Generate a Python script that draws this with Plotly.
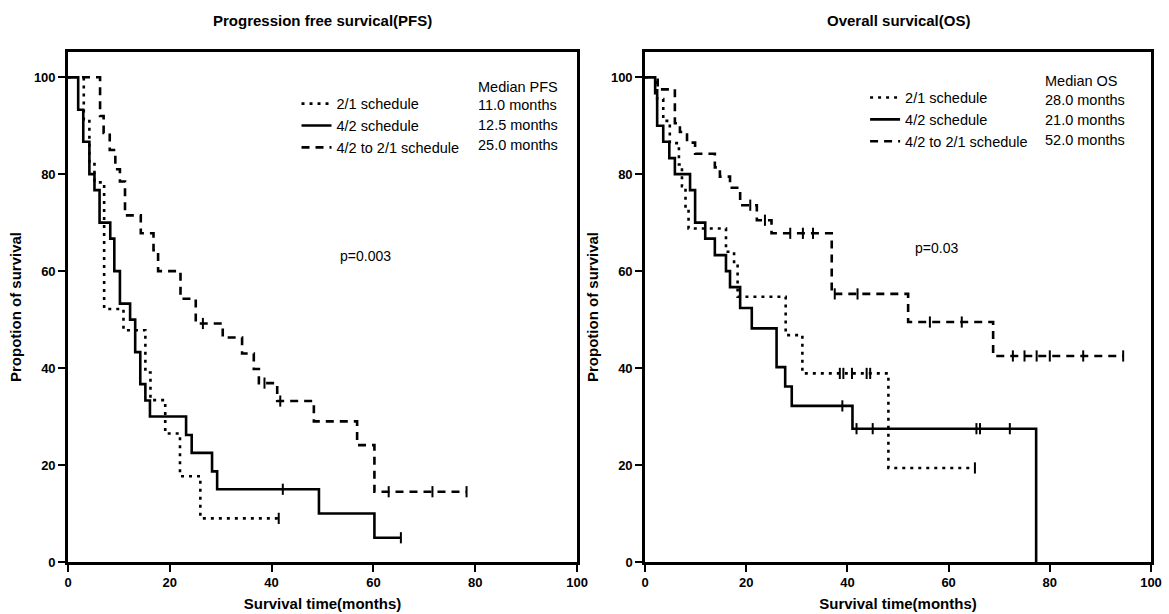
import plotly.graph_objects as go
from plotly.subplots import make_subplots

# ---------------- data ----------------
series_names = ["2/1 schedule", "4/2 schedule", "4/2 to 2/1 schedule"]

# Progression free survival
pfs_21_t = [0, 3.1, 4.2, 5.2, 7.1, 10.9, 15.2, 16.2, 19.1, 22.0, 26.0, 41.4]
pfs_21_s = [100, 91.3, 82.6, 78.3, 52.2, 47.8, 39.1, 33.4, 26.5, 17.7, 9.0, 9.0]
pfs_21_cens_t = [41.4]
pfs_21_cens_s = [9.0]

pfs_42_t = [0, 2.0, 3.0, 4.2, 5.2, 6.2, 8.3, 9.1, 10.2, 12.2, 13.2, 14.2, 15.2, 16.1,
            23.2, 24.3, 28.3, 29.3, 49.3, 60.2, 65.4]
pfs_42_s = [100, 93.3, 86.7, 80.0, 76.7, 70.0, 66.7, 60.0, 53.3, 50.0, 43.3, 36.7, 33.3, 30.0,
            26.2, 22.5, 18.7, 15.0, 10.0, 5.0, 5.0]
pfs_42_cens_t = [42.2, 65.4]
pfs_42_cens_s = [15.0, 5.0]

pfs_4221_t = [0, 6.3, 7.0, 8.2, 9.3, 10.2, 11.2, 14.3, 16.8, 17.7, 22.1, 25.1, 30.4, 34.2,
              36.5, 37.5, 41.1, 48.3, 56.8, 60.2, 78.3]
pfs_4221_s = [100, 92.0, 88.5, 85.0, 81.0, 78.5, 71.5, 67.8, 64.3, 60.0, 54.3, 49.2, 46.3, 43.0,
              39.8, 36.9, 33.2, 29.0, 24.1, 14.5, 14.5]
pfs_4221_cens_t = [26.5, 38.6, 41.7, 63.0, 71.6, 78.3]
pfs_4221_cens_s = [49.2, 36.9, 33.2, 14.5, 14.5, 14.5]

# Overall survival
os_21_t = [0, 2.4, 3.6, 4.9, 6.7, 7.3, 8.0, 8.6, 16.0, 17.6, 18.3, 27.8, 31.1, 48.1, 65.2]
os_21_s = [100, 95.5, 91.0, 86.4, 82.0, 77.5, 73.0, 68.8, 64.0, 61.5, 54.7, 46.8, 38.9, 19.4, 19.4]
os_21_cens_t = [38.5, 39.2, 40.9, 43.8, 44.5, 65.2]
os_21_cens_s = [38.9, 38.9, 38.9, 38.9, 38.9, 19.4]

os_42_t = [0, 2.0, 2.4, 3.6, 4.8, 5.9, 8.9, 9.9, 11.9, 13.8, 16.0, 16.8, 18.8, 21.1,
           26.0, 27.7, 29.0, 41.0, 77.3]
os_42_s = [100, 96.7, 90.0, 86.7, 83.3, 80.0, 76.7, 70.0, 66.7, 63.3, 60.0, 56.7, 52.4, 48.2,
           40.2, 36.2, 32.2, 27.5, 0]
os_42_cens_t = [39.0, 41.8, 45.0, 65.5, 66.2, 72.1]
os_42_cens_s = [32.2, 27.5, 27.5, 27.5, 27.5, 27.5]

os_4221_t = [0, 2.5, 5.9, 6.9, 8.3, 9.9, 13.8, 14.8, 16.8, 18.8, 22.1, 25.0, 36.9, 52.0, 68.8, 94.5]
os_4221_s = [100, 97.5, 90.5, 88.7, 86.5, 84.2, 81.4, 79.5, 77.2, 73.6, 70.5, 67.8, 55.3, 49.5, 42.5, 42.5]
os_4221_cens_t = [20.8, 23.7, 28.7, 31.2, 33.2, 37.5, 42.0, 56.3, 62.6, 72.7, 75.0, 77.4, 80.0, 86.6, 94.5]
os_4221_cens_s = [73.6, 70.5, 67.8, 67.8, 67.8, 55.3, 55.3, 49.5, 49.5, 42.5, 42.5, 42.5, 42.5, 42.5, 42.5]

pfs_medians = ["11.0 months", "12.5 months", "25.0 months"]
os_medians = ["28.0 months", "21.0 months", "52.0 months"]
pfs_p = "p=0.003"
os_p = "p=0.03"

x_ticks = [0, 20, 40, 60, 80, 100]
y_ticks = [0, 20, 40, 60, 80, 100]

# ---------------- figure ----------------
FONT = "Liberation Sans, Arial, sans-serif"
dashes = ["3px,5px", "solid", "8px,6px"]
LW = 2.6
TXT = 14.5

fig = make_subplots(rows=1, cols=2, horizontal_spacing=0.0628)
fig.update_layout(xaxis=dict(domain=[0, 0.470]), xaxis2=dict(domain=[0.5328, 1.0]))

panels = [
    (1, "legend", [(pfs_21_t, pfs_21_s, pfs_21_cens_t, pfs_21_cens_s),
                   (pfs_42_t, pfs_42_s, pfs_42_cens_t, pfs_42_cens_s),
                   (pfs_4221_t, pfs_4221_s, pfs_4221_cens_t, pfs_4221_cens_s)]),
    (2, "legend2", [(os_21_t, os_21_s, os_21_cens_t, os_21_cens_s),
                    (os_42_t, os_42_s, os_42_cens_t, os_42_cens_s),
                    (os_4221_t, os_4221_s, os_4221_cens_t, os_4221_cens_s)]),
]

for col, leg, groups in panels:
    for i, (t, s, ct, cs) in enumerate(groups):
        fig.add_trace(go.Scatter(
            x=t, y=s, mode="lines", line_shape="hv",
            line=dict(color="black", width=LW, dash=dashes[i]),
            name=series_names[i], legend=leg, showlegend=True,
        ), row=1, col=col)
        fig.add_trace(go.Scatter(
            x=ct, y=cs, mode="markers",
            marker=dict(symbol="line-ns", size=8, line=dict(color="black", width=2)),
            showlegend=False, hoverinfo="skip",
        ), row=1, col=col)

axis_common = dict(
    showline=True, linewidth=2.6, linecolor="black", mirror=True,
    ticks="outside", ticklen=7, tickwidth=2.2, tickcolor="black",
    showgrid=False, zeroline=False,
    tickfont=dict(family=FONT, size=13, color="black", weight="bold"),
    title_font=dict(family=FONT, size=15, color="black", weight="bold"),
)

for c in (1, 2):
    fig.update_xaxes(range=[0, 100], tickvals=x_ticks, title_text="Survival time(months)",
                     title_standoff=10, **axis_common, row=1, col=c)
    fig.update_yaxes(range=[0, 105.2], tickvals=y_ticks, title_text="Propotion of survival",
                     title_standoff=9, **axis_common, row=1, col=c)

legend_common = dict(
    font=dict(family=FONT, size=TXT, color="black"),
    bgcolor="rgba(0,0,0,0)", borderwidth=0, yanchor="top", xanchor="left",
    tracegroupgap=0, itemwidth=30,
)
fig.update_layout(
    legend=dict(x=0.211, y=0.93, **legend_common),
    legend2=dict(x=0.736, y=0.942, **legend_common),
)

ann = []
def txt(x, y, text, size=TXT, bold=False, xanchor="left"):
    ann.append(dict(x=x, y=y, xref="paper", yref="paper", text=text, showarrow=False,
                    xanchor=xanchor, yanchor="middle",
                    font=dict(family=FONT, size=size, color="black",
                              weight="bold" if bold else "normal")))

def px2x(px):
    return (px - 68) / 1083.0

def py2y(py):
    return (562 - py) / 510.0

# titles
txt(px2x(322), py2y(20), "Progression free survical(PFS)", size=15, bold=True, xanchor="center")
txt(px2x(898), py2y(20), "Overall survical(OS)", size=15, bold=True, xanchor="center")
# median columns
txt(px2x(476), py2y(87), "Median PFS")
for k, m in enumerate(pfs_medians):
    txt(px2x(476), py2y(105 + 20 * k), m)
txt(px2x(1043), py2y(81), "Median OS")
for k, m in enumerate(os_medians):
    txt(px2x(1043), py2y(100 + 20 * k), m)
# p values
txt(px2x(338), py2y(256), pfs_p, size=14)
txt(px2x(913), py2y(248), os_p, size=14)

fig.update_layout(
    annotations=ann,
    width=1169, height=614,
    margin=dict(l=68, r=18, t=52, b=52, autoexpand=False),
    plot_bgcolor="white", paper_bgcolor="white",
    font=dict(family=FONT, color="black"),
)
fig.update_xaxes(automargin=False)
fig.update_yaxes(automargin=False)

fig.write_html("out.html", config={"displayModeBar": False},
               post_script="document.body.style.margin='0';document.body.style.overflow='hidden';")
